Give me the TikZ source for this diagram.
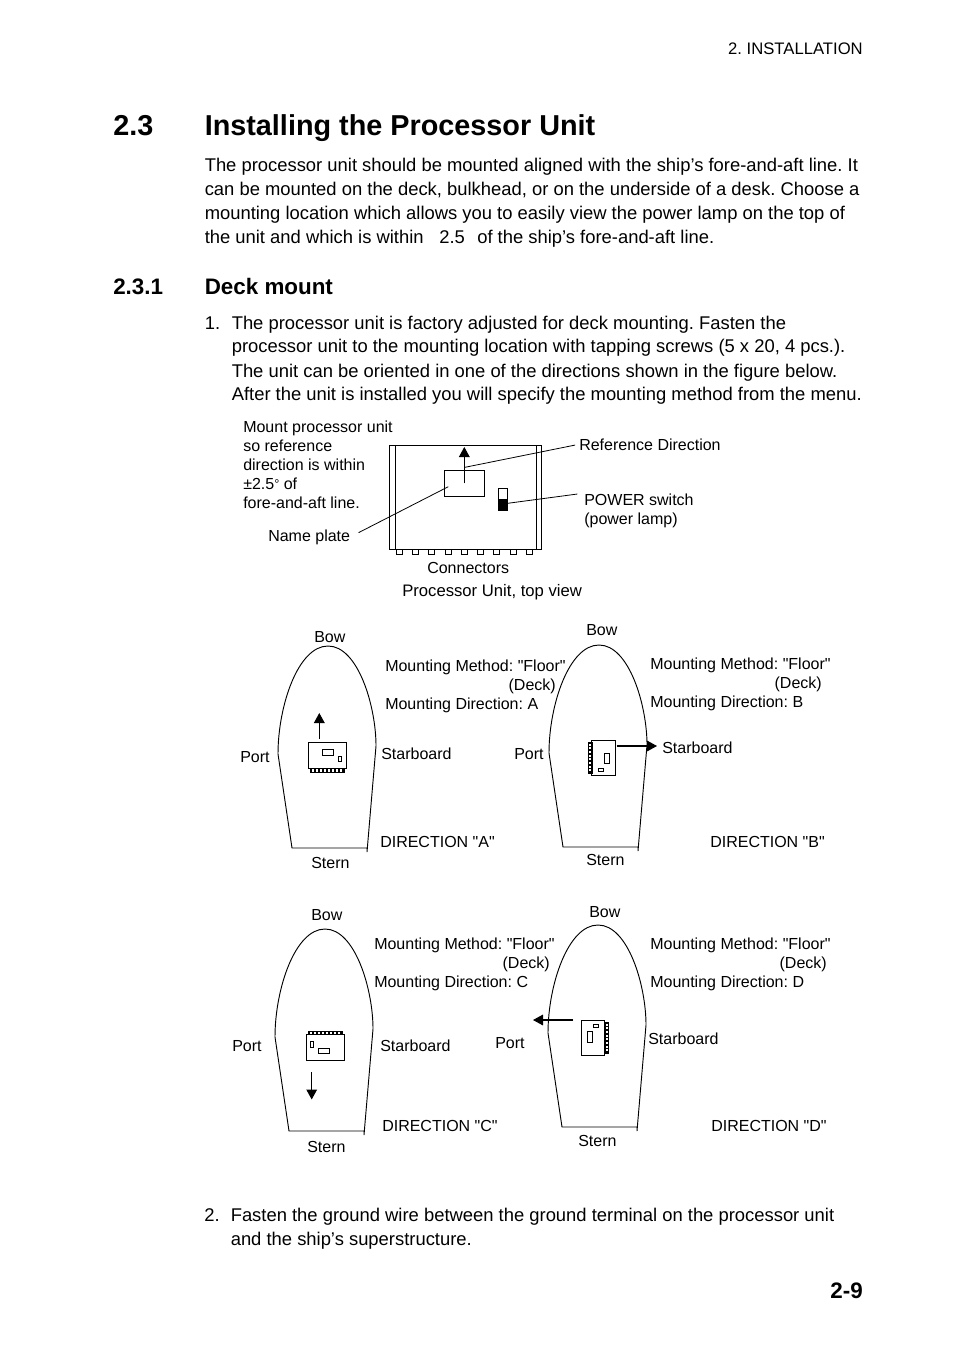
\documentclass[tikz,border=0pt]{standalone}
\usepackage{fontspec}
\setmainfont{Liberation Sans}[Ligatures=TeXOff]
\usetikzlibrary{arrows.meta, positioning}
\frenchspacing

\tikzset{
    txt/.style={anchor=base west, inner sep=0pt, font=\fontsize{13.8}{16}\selectfont},
    lbl/.style={anchor=base west, inner sep=0pt, font=\fontsize{12}{14}\selectfont},
    lblr/.style={lbl, anchor=base east},
    arrow/.style={-{Triangle[length=7.5pt,width=8pt]}, line width=0.8pt},
    leader/.style={line width=0.6pt},
    hull/.pic={
        \draw[line width=0.7pt] (39,206) -- (39,202) -- (-36,202) -- (-50,108)
            .. controls (-50,60) and (-30,0) .. (0,0)
            .. controls (30,0) and (48,60) .. (48,100) -- (39,206);
    },
    procunit/.pic={
        \draw[line width=0.7pt] (-19,-13) rectangle (19,13);
        \draw[line width=0.5pt] (-4.7,-6.2) rectangle (6.3,-0.5);
        \draw[line width=0.5pt] (11.3,0.5) rectangle (14.7,6.2);
        \draw[line width=0.4pt] (-17,13) rectangle (17,16.5);
        \foreach \tx in {-16,-12,...,16}
            \fill (\tx-0.8,13) rectangle (\tx+0.8,16.5);
    }
}

\begin{document}
\begin{tikzpicture}[x=0.75pt, y=-0.75pt]
\useasboundingbox (0,0) rectangle (954,1351);

% page text
\node[lbl, anchor=base east, font=\fontsize{12.5}{14}\selectfont] (header) at (863,55) {2. INSTALLATION};
\node[txt, font=\fontsize{21.6}{26}\selectfont\bfseries] (secnum) at (113,136) {2.3};
\node[txt, font=\fontsize{21.6}{26}\selectfont\bfseries] (sectitle) at (204.5,136) {Installing the Processor Unit};
\node[txt] (parone) at (204.5,172) {The processor unit should be mounted aligned with the ship’s fore-and-aft line. It};
\node[txt] (partwo) at (204.5,196) {can be mounted on the deck, bulkhead, or on the underside of a desk. Choose a};
\node[txt] (parthree) at (204.5,220) {mounting location which allows you to easily view the power lamp on the top of};
\node[txt] (parfour) at (204.5,244) {the unit and which is within};
\node[txt] (parangle) at (439,244) {2.5};
\node[txt] (parend) at (477,244) {of the ship’s fore-and-aft line.};
\node[txt, font=\fontsize{16.8}{19}\selectfont\bfseries] (subnum) at (113,295) {2.3.1};
\node[txt, font=\fontsize{16.8}{19}\selectfont\bfseries] (subtitle) at (204.5,295) {Deck mount};
\node[txt] (itemone) at (204.5,330) {1.};
\node[txt] (stepa) at (231.5,330) {The processor unit is factory adjusted for deck mounting. Fasten the};
\node[txt] (stepb) at (231.5,353) {processor unit to the mounting location with tapping screws (5 x 20, 4 pcs.).};
\node[txt] (stepc) at (231.5,378) {The unit can be oriented in one of the directions shown in the figure below.};
\node[txt] (stepd) at (231.5,400) {After the unit is installed you will specify the mounting method from the menu.};
\node[txt] (itemtwo) at (204,1221) {2.};
\node[txt] (stepe) at (230.5,1221) {Fasten the ground wire between the ground terminal on the processor unit};
\node[txt] (stepf) at (230.5,1245) {and the ship’s superstructure.};
\node[txt, anchor=base east, font=\fontsize{16.8}{19}\selectfont\bfseries] (pageno) at (863,1298) {2-9};

% top view of the unit
\foreach \cx in {399,415.3,431.7,448,464.3,480.7,496.7,513.3,529.7}
    \draw[line width=0.7pt] (\cx-3,549.3) rectangle (\cx+3,554);
\draw[line width=0.6pt] (389.5,445.7) -- (389.5,549.3) -- (541.5,549.3) -- (541.5,445.7);
\draw[line width=0.6pt] (395,445.7) -- (395,549.3) (536,445.7) -- (536,549.3);
\draw[line width=1.1pt] (389,445.7) -- (542,445.7);
\node[draw, line width=0.8pt, minimum width=30pt, minimum height=19.5pt, inner sep=0pt] (plate) at (464.3,483.3) {};
\node[draw, line width=0.5pt, minimum width=7pt, minimum height=16.5pt, inner sep=0pt] (switch) at (503,499.5) {};
\fill (498.3,499.3) rectangle (507.7,510.7);
\coordinate (reftail) at (464.3,483.3);
\coordinate (reftip) at (464.3,447);
\draw[arrow] (reftail) -- (reftip);
\node[lbl] (mounta) at (243,432) {Mount processor unit};
\node[lbl] (mountb) at (243,451) {so reference};
\node[lbl] (mountc) at (243,470) {direction is within};
\node[lbl] (mountd) at (243,489) {±2.5{\fontsize{9.5}{9}\selectfont\raisebox{.5pt}{°}} of};
\node[lbl] (mounte) at (243,508) {fore-and-aft line.};
\node[lbl] (namelbl) at (268,541) {Name plate};
\node[lbl] (reflbl) at (579,450) {Reference Direction};
\node[lbl] (powera) at (584,505) {POWER switch};
\node[lbl] (powerb) at (584,524) {(power lamp)};
\node[lbl] (connlbl) at (427,573) {Connectors};
\node[lbl, font=\fontsize{12.5}{14}\selectfont] (toplbl) at (402,596) {Processor Unit, top view};
\coordinate (refend) at (465,467.3);
\coordinate (powerend) at (507.7,503.3);
\coordinate (nameend) at (448.3,486.7);
\draw[leader, shorten <=3pt] (reflbl.west) -- (refend);
\draw[leader, shorten <=5pt] (powera.north west) -- (powerend);
\draw[leader, shorten <=7pt] (namelbl.east) -- (nameend);

% direction A
\pic at (328,646) {hull};
\pic at (327,755.5) {procunit};
\coordinate (tailA) at (319.3,739);
\coordinate (tipA) at (319.3,713);
\draw[arrow] (tailA) -- (tipA);
\node[lbl] (bowA) at (314,642) {Bow};
\node[lbl] (methodA) at (385,671) {Mounting Method: "Floor"};
\node[lblr] (deckA) at (556,690) {(Deck)};
\node[lbl] (dirA) at (385,709) {Mounting Direction: A};
\node[lbl] (portA) at (240,762) {Port};
\node[lbl] (starA) at (381,759) {Starboard};
\node[lbl] (nameA) at (380,847) {DIRECTION "A"};
\node[lbl] (sternA) at (311,868) {Stern};

% direction B
\pic at (599,645) {hull};
\pic[rotate=-90, xscale=0.92, yscale=0.9] at (603.5,757.5) {procunit};
\coordinate (tailB) at (616.7,746);
\coordinate (tipB) at (657,746);
\draw[arrow] (tailB) -- (tipB);
\node[lbl] (bowB) at (586,635) {Bow};
\node[lbl] (methodB) at (650,669) {Mounting Method: "Floor"};
\node[lblr] (deckB) at (822,688) {(Deck)};
\node[lbl] (dirB) at (650,707) {Mounting Direction: B};
\node[lbl] (portB) at (514,759) {Port};
\node[lbl] (starB) at (662,753) {Starboard};
\node[lbl] (nameB) at (710,847) {DIRECTION "B"};
\node[lbl] (sternB) at (586,865) {Stern};

% direction C
\pic at (325,929) {hull};
\pic[rotate=180] at (325,1047.5) {procunit};
\coordinate (tailC) at (311.7,1072.3);
\coordinate (tipC) at (311.7,1099.5);
\draw[arrow] (tailC) -- (tipC);
\node[lbl] (bowC) at (311,920) {Bow};
\node[lbl] (methodC) at (374,949) {Mounting Method: "Floor"};
\node[lblr] (deckC) at (550,968) {(Deck)};
\node[lbl] (dirC) at (374,987) {Mounting Direction: C};
\node[lbl] (portC) at (232,1051) {Port};
\node[lbl] (starC) at (380,1051) {Starboard};
\node[lbl] (nameC) at (382,1131) {DIRECTION "C"};
\node[lbl] (sternC) at (307,1152) {Stern};

% direction D
\pic at (598,925) {hull};
\pic[rotate=90, xscale=0.92, yscale=0.9] at (593.2,1037.5) {procunit};
\coordinate (tailD) at (573.3,1020);
\coordinate (tipD) at (533,1020);
\draw[arrow] (tailD) -- (tipD);
\node[lbl] (bowD) at (589,917) {Bow};
\node[lbl] (methodD) at (650,949) {Mounting Method: "Floor"};
\node[lblr] (deckD) at (827,968) {(Deck)};
\node[lbl] (dirD) at (650,987) {Mounting Direction: D};
\node[lbl] (portD) at (495,1048) {Port};
\node[lbl] (starD) at (648,1044) {Starboard};
\node[lbl] (nameD) at (711,1131) {DIRECTION "D"};
\node[lbl] (sternD) at (578,1146) {Stern};
\end{tikzpicture}
\end{document}
